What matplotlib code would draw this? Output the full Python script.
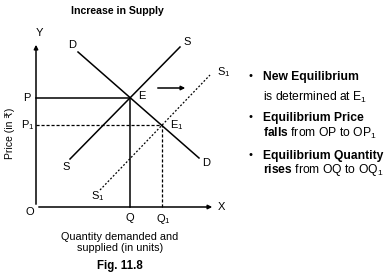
import matplotlib
matplotlib.use("Agg")
import matplotlib.pyplot as plt
import numpy as np

plt.rcParams['font.family'] = ['Liberation Sans', 'DejaVu Sans']
plt.rcParams['mathtext.fontset'] = 'custom'
plt.rcParams['mathtext.rm'] = 'Liberation Sans'
plt.rcParams['mathtext.bf'] = 'Liberation Sans:bold'
plt.rcParams['mathtext.it'] = 'Liberation Sans:italic'

# Curve end points (economic diagram units, origin at O)
demand_x = [42, 163]
demand_y = [155, 49]
supply_x = [34, 144]
supply_y = [48, 160]
supply1_x = [64, 174]
supply1_y = [17, 132]

bullet_titles = ["New Equilibrium", "Equilibrium Price", "Equilibrium Quantity"]
bullet_texts = [r"is determined at E$_1$",
                r"$\mathbf{falls}$ from OP to OP$_1$",
                r"$\mathbf{rises}$ from OQ to OQ$_1$"]


def intersect(x1, y1, x2, y2):
    m1 = (y1[1] - y1[0]) / (x1[1] - x1[0])
    m2 = (y2[1] - y2[0]) / (x2[1] - x2[0])
    b1 = y1[0] - m1 * x1[0]
    b2 = y2[0] - m2 * x2[0]
    x = (b2 - b1) / (m1 - m2)
    return x, m1 * x + b1


E = intersect(demand_x, demand_y, supply_x, supply_y)
E1 = intersect(demand_x, demand_y, supply1_x, supply1_y)

fig = plt.figure(figsize=(3.89, 2.76), dpi=100)
ax = fig.add_axes([0, 0, 1, 1])
ax.set_xlim(-36, 353)
ax.set_ylim(-69, 207)
ax.axis('off')

lw = 1.1
# axes
ax.annotate('', xy=(0, 165), xytext=(0, 0),
            arrowprops=dict(arrowstyle='-|>', lw=lw, color='black', mutation_scale=6))
ax.annotate('', xy=(179, 0), xytext=(0, 0),
            arrowprops=dict(arrowstyle='-|>', lw=lw, color='black', mutation_scale=6))

ax.plot(demand_x, demand_y, color='black', lw=lw)
ax.plot(supply_x, supply_y, color='black', lw=lw)
ax.plot(supply1_x, supply1_y, color='black', lw=0.9, linestyle=(0, (1.5, 1.5)))

# equilibrium guides
ax.plot([0, E[0]], [E[1], E[1]], color='black', lw=lw)
ax.plot([E[0], E[0]], [0, E[1]], color='black', lw=lw)
ax.plot([0, E1[0]], [E1[1], E1[1]], color='black', lw=0.9, linestyle=(0, (2.5, 1.5)))
ax.plot([E1[0], E1[0]], [0, E1[1]], color='black', lw=0.9, linestyle=(0, (2.5, 1.5)))

# shift arrow
ax.annotate('', xy=(152, 119), xytext=(119, 119),
            arrowprops=dict(arrowstyle='-|>', lw=lw, color='black', mutation_scale=6))

fs = 8
t = dict(fontsize=fs, ha='center', va='center')
ax.text(81, 196, "Increase in Supply", fontsize=7.6, fontweight='bold', ha='center', va='center')
ax.text(3, 174, "Y", **t)
ax.text(185, 0, "X", **t)
ax.text(-6, -5, "O", **t)
ax.text(36, 162, "D", **t)
ax.text(170, 44, "D", **t)
ax.text(151, 165, "S", **t)
ax.text(30, 40, "S", **t)
ax.text(188, 135, r"S$_1$", **t)
ax.text(62, 11, r"S$_1$", **t)
ax.text(106, 111, "E", **t)
ax.text(141, 82, r"E$_1$", **t)
ax.text(-9, E[1], "P", **t)
ax.text(-8, E1[1], r"P$_1$", **t)
ax.text(E[0], -11, "Q", **t)
ax.text(E1[0] + 2, -12, r"Q$_1$", **t)
ax.text(-26, 74, "Price (in ₹)", fontsize=7.5, rotation=90, ha='center', va='center')
ax.text(84, -30, "Quantity demanded and", fontsize=7.8, ha='center', va='center')
ax.text(84, -41, "supplied (in units)", fontsize=7.8, ha='center', va='center')
ax.text(84, -59, "Fig. 11.8", fontsize=8.3, fontweight='bold', ha='center', va='center')

ys_title = [130, 89, 51]
ys_text = [110, 74, 37]
for title, txt, yt, yx in zip(bullet_titles, bullet_texts, ys_title, ys_text):
    ax.text(215, yt + 1, "•", fontsize=8, ha='center', va='center')
    ax.text(227, yt, title, fontsize=8.7, fontweight='bold', ha='left', va='center')
    ax.text(227, yx, txt, fontsize=8.7, ha='left', va='center')

fig.savefig("out.png", dpi=100)
